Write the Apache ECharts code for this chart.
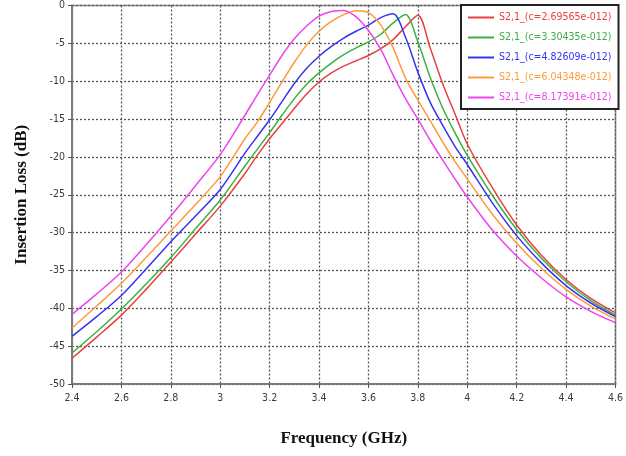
<!DOCTYPE html>
<html>
<head>
<meta charset="utf-8">
<script src="https://cdn.jsdelivr.net/npm/echarts@6/dist/echarts.min.js"></script>
<style>html,body{margin:0;padding:0;background:#fff}#c{width:626px;height:456px}</style>
</head>
<body>
<div id="c"></div>
<script>
const freq = [2.4,2.5,2.6,2.7,2.8,2.9,3.0,3.1,3.15,3.2,3.25,3.3,3.35,3.4,3.45,3.5,3.55,3.6,3.65,3.7,3.75,3.8,3.85,3.9,3.95,4.0,4.1,4.2,4.3,4.4,4.5,4.6];
const seriesNames = ['S2,1_(c=2.69565e-012)','S2,1_(c=3.30435e-012)','S2,1_(c=4.82609e-012)','S2,1_(c=6.04348e-012)','S2,1_(c=8.17391e-012)'];
const red     = [-46.6,-43.8,-40.9,-37.5,-33.9,-30.2,-26.5,-22.2,-19.8,-17.6,-15.6,-13.6,-11.7,-10.1,-8.9,-8.0,-7.3,-6.6,-5.7,-4.5,-2.8,-1.3,-5.6,-10.3,-14.3,-18.3,-24.0,-29.0,-33.0,-36.2,-38.7,-40.6];
const green   = [-45.9,-43.1,-40.1,-36.8,-33.3,-29.5,-25.7,-21.2,-19.0,-16.8,-14.5,-12.3,-10.4,-8.9,-7.6,-6.5,-5.6,-4.8,-3.8,-2.3,-1.2,-4.8,-9.5,-13.5,-16.8,-19.8,-25.0,-29.6,-33.4,-36.5,-39.0,-40.9];
const blue    = [-43.7,-41.1,-38.3,-34.8,-31.2,-27.8,-24.3,-19.5,-17.3,-15.1,-12.7,-10.3,-8.3,-6.7,-5.4,-4.3,-3.4,-2.6,-1.6,-1.1,-4.2,-8.8,-12.8,-15.8,-18.6,-21.0,-26.0,-30.4,-34.0,-37.0,-39.3,-41.1];
const orange  = [-42.6,-39.7,-36.7,-33.3,-29.8,-26.3,-22.6,-17.6,-15.4,-12.8,-10.1,-7.5,-5.2,-3.4,-2.1,-1.2,-0.7,-0.95,-2.6,-5.6,-9.6,-12.5,-15.2,-18.0,-20.6,-22.9,-27.5,-31.4,-34.7,-37.5,-39.7,-41.4];
const magenta = [-40.8,-38.1,-35.2,-31.6,-27.8,-23.8,-19.7,-14.5,-11.8,-9.2,-6.6,-4.4,-2.7,-1.4,-0.8,-0.65,-1.5,-3.3,-5.8,-9.2,-12.3,-15.0,-17.8,-20.4,-22.9,-25.3,-29.6,-33.1,-36.0,-38.5,-40.4,-41.9];
const colors = ['#e8403f','#3cb043','#3535ee','#ff9a3c','#ee44ee'];
const xTicks = [2.4,2.6,2.8,3,3.2,3.4,3.6,3.8,4,4.2,4.4,4.6];

const allData = [red, green, blue, orange, magenta];
const chart = echarts.init(document.getElementById('c'), null, {renderer:'canvas'});
const gridLine = {show:true, lineStyle:{color:'#555', type:[2,2], width:1.3}};
chart.setOption({
  animation:false,
  backgroundColor:'#fff',
  grid:{left:72, right:8, top:5, bottom:72, show:true, borderColor:'#8a8a8a', borderWidth:1.5},
  legend:{
    orient:'vertical', left:461, top:5,
    backgroundColor:'#fff', borderColor:'#222', borderWidth:2,
    padding:[6,7,5,7], itemGap:7, itemWidth:26, itemHeight:2, icon:'rect',
    data: seriesNames.map((n,i)=>({name:n, textStyle:{color:colors[i]}})),
    textStyle:{fontFamily:'DejaVu Sans Condensed, sans-serif', fontSize:10.5, lineHeight:13}
  },
  xAxis:{
    type:'value', min:2.4, max:4.6, interval:0.2,
    name:'Frequency (GHz)', nameLocation:'middle', nameGap:46,
    nameTextStyle:{fontFamily:'Liberation Serif, serif', fontWeight:'bold', fontSize:17, color:'#111'},
    axisLine:{show:true, onZero:false, lineStyle:{color:'#7a7a7a', width:2}},
    axisTick:{show:true, length:4, lineStyle:{color:'#555'}},
    axisLabel:{color:'#3a3a3a', fontFamily:'DejaVu Sans Condensed, sans-serif', fontSize:10.5, margin:9,
      formatter:v=>{const t=xTicks.find(x=>Math.abs(x-v)<1e-6);return t===undefined?'':String(t);}},
    splitLine:gridLine
  },
  yAxis:{
    type:'value', min:-50, max:0, interval:5,
    name:'Insertion Loss (dB)', nameLocation:'middle', nameGap:42,
    nameTextStyle:{fontFamily:'Liberation Serif, serif', fontWeight:'bold', fontSize:17, color:'#111'},
    axisLine:{show:true, onZero:false, lineStyle:{color:'#7a7a7a', width:2}},
    axisTick:{show:true, length:4, lineStyle:{color:'#555'}},
    axisLabel:{color:'#3a3a3a', fontFamily:'DejaVu Sans Condensed, sans-serif', fontSize:10.5, margin:7},
    splitLine:gridLine
  },
  series: allData.map((d,i)=>({
    name:seriesNames[i], type:'line', symbol:'none', smooth:0.3,
    lineStyle:{color:colors[i], width:1.5}, itemStyle:{color:colors[i]},
    data: freq.map((f,j)=>[f,d[j]])
  }))
});
</script>
</body>
</html>
